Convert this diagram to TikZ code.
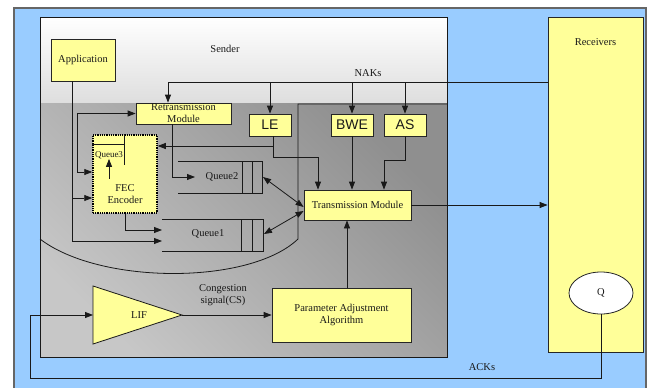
\documentclass[tikz,border=0pt]{standalone}
\usepackage{fontspec}
\setmainfont{Liberation Serif}
\setsansfont{Liberation Sans}
\usepackage{tikz}
\usetikzlibrary{shapes.geometric, arrows.meta, positioning}
\definecolor{boxyellow}{HTML}{FFFF99}
\definecolor{skyblue}{HTML}{99CCFF}
\tikzstyle{box} = [rectangle, draw=black!85, fill=boxyellow, line width=0.8pt,
 inner sep=0pt, align=center, text=black!90, font=\fontsize{10.5}{12}\selectfont]
\tikzstyle{sbox} = [box, minimum width=42pt, minimum height=22pt,
 font=\sffamily\fontsize{14}{14}\selectfont]
\tikzstyle{lbl} = [inner sep=0pt, align=center, text=black!90,
 font=\fontsize{10.5}{11.5}\selectfont]
\tikzstyle{wire} = [line width=0.8pt, draw=black!90]
\tikzstyle{arrow} = [wire, -{Triangle[length=8pt, width=6pt]}]
\tikzstyle{dblarrow} = [wire, {Triangle[length=8pt, width=6pt]}-{Triangle[length=8pt, width=6pt]}]

\begin{document}
\begin{tikzpicture}[x=1pt, y=-1pt]
\useasboundingbox (0,0) rectangle (653,388);
% panels
\draw[fill=skyblue, draw=black!60, line width=1.2pt] (14,8) rectangle (646,394);
\shade[top color=white, bottom color=black!13] (40,17) rectangle (447,103);
\shade[top color=black!44, bottom color=black!22, shading angle=-45] (40,103) rectangle (447,357);
\draw[wire] (40,17) rectangle (447,357);
\draw[wire] (447,104) -- (298,104) -- (298,239) .. controls (250,285) and (100,285) .. (40,239);
\node(sender) [lbl] at (225,49) {Sender};
\node(naks) [lbl] at (368,73) {NAKs};
\node(acks) [lbl] at (482,367) {ACKs};

% receivers
\node(recv) [box, minimum width=95pt, minimum height=335pt] at (595.5,184.5) {};
\node(recvtext) [lbl, below=22pt of recv.north] {Receivers};
\node(q) [ellipse, draw=black!85, fill=white, line width=0.8pt, minimum width=64pt,
 minimum height=42pt, inner sep=0pt, text=black!90, font=\fontsize{10.5}{12}\selectfont] at (601,293) {Q};

% sender blocks
\node(app) [box, minimum width=64pt, minimum height=42pt] at (83,60) {Application};
\node(retrans) [box, minimum width=95pt, minimum height=21pt] at (183.5,113.5) {Retransmission\\Module};
\node(le) [sbox] at (270,125) {LE};
\node(bwe) [sbox] at (352,125) {BWE};
\node(as) [sbox] at (405,125) {AS};
\node(fec) [box, minimum width=64pt, minimum height=78pt, draw=black, densely dotted, line width=1.5pt] at (125,174) {};
\node(fectext) [lbl] at (125,194) {FEC\\Encoder};
\node(queue3) [lbl, font=\fontsize{9}{10}\selectfont] at (109,155) {Queue3};
\draw[wire] ([yshift=-10pt]fec.north west) -- ++(32,0);
\draw[wire] ([xshift=32pt]fec.north west) -- ++(0,31);
\node(queue2) [lbl] at (222,177) {Queue2};
\draw[wire] (178,161) -- (262,161) -- (262,193) -- (178,193);
\draw[wire] (242,161) -- (242,193) (252,161) -- (252,193);
\node(queue1) [lbl] at (208,234) {Queue1};
\draw[wire] (162,219) -- (263,219) -- (263,251) -- (162,251);
\draw[wire] (241,219) -- (241,251) (252,219) -- (252,251);
\node(tm) [box, minimum width=107pt, minimum height=30pt] at (357.5,205) {Transmission Module};
\node(paa) [box, minimum width=139pt, minimum height=54pt] at (341.5,315) {Parameter Adjustment\\Algorithm};
\draw[wire, fill=boxyellow] (93,286) -- (182,315) -- (93,344) -- cycle;
\node(lif) [lbl] at (139,315) {LIF};
\node(cs) [lbl] at (223,295) {Congestion\\signal(CS)};

\coordinate(nak) at (548,82);
\coordinate(lesplit) at (273,146);
\coordinate(lebend) at (318,157);
\coordinate(asbend) at (384,160);
\coordinate(fecloop) at (77,172);
\coordinate(appjoin) at (72,198);
\coordinate(q2in) at (195,177);
\coordinate(q1ina) at (162,230);
\coordinate(q1inb) at (162,241);
\coordinate(q2out) at (263,177);
\coordinate(q1out) at (264,234);
\coordinate(lifin) at (93,315);
\coordinate(lifout) at (182,315);
\coordinate(ackcorner) at (30,378);

% connectors
\draw[arrow] (nak) -| ([xshift=-15.5pt]retrans.north);
\draw[arrow] (le.north |- nak) -- (le.north);
\draw[arrow] (bwe.north |- nak) -- (bwe.north);
\draw[arrow] (as.north |- nak) -- (as.north);
\draw[arrow] (bwe.south) -- (bwe.south |- tm.north);
\draw[arrow] (as.south) |- (asbend) -- (asbend |- tm.north);
\draw[arrow] (le.south -| lesplit) -- (lesplit) -- (lesplit -| fec.east);
\draw[arrow] (lesplit) |- (lebend) -- (lebend |- tm.north);
\draw[dblarrow] (retrans.west) -| (fecloop) -- (fecloop -| fec.west);
\draw[arrow] ([xshift=-11pt]app.south) |- (q1inb);
\draw[arrow] (appjoin) -- (appjoin -| fec.west);
\draw[arrow] ([yshift=-20pt]queue3.south) -- (queue3.south);
\draw[arrow] ([xshift=-11.5pt]retrans.south) |- (q2in);
\draw[arrow] (fec.south) |- (q1ina);
\draw[dblarrow] (q2out) -- ([yshift=-2pt]tm.west);
\draw[dblarrow] (q1out) -- ([yshift=-6pt]tm.west);
\draw[arrow] (tm.east) -- (tm.east -| recv.west);
\draw[arrow] ([xshift=5.5pt]paa.north) -- ([xshift=5.5pt]paa.north |- tm.south);
\draw[arrow] (lifout) -- (lifout -| paa.west);
\draw[arrow] (q.south) |- (ackcorner) |- (lifin);
\end{tikzpicture}
\end{document}
